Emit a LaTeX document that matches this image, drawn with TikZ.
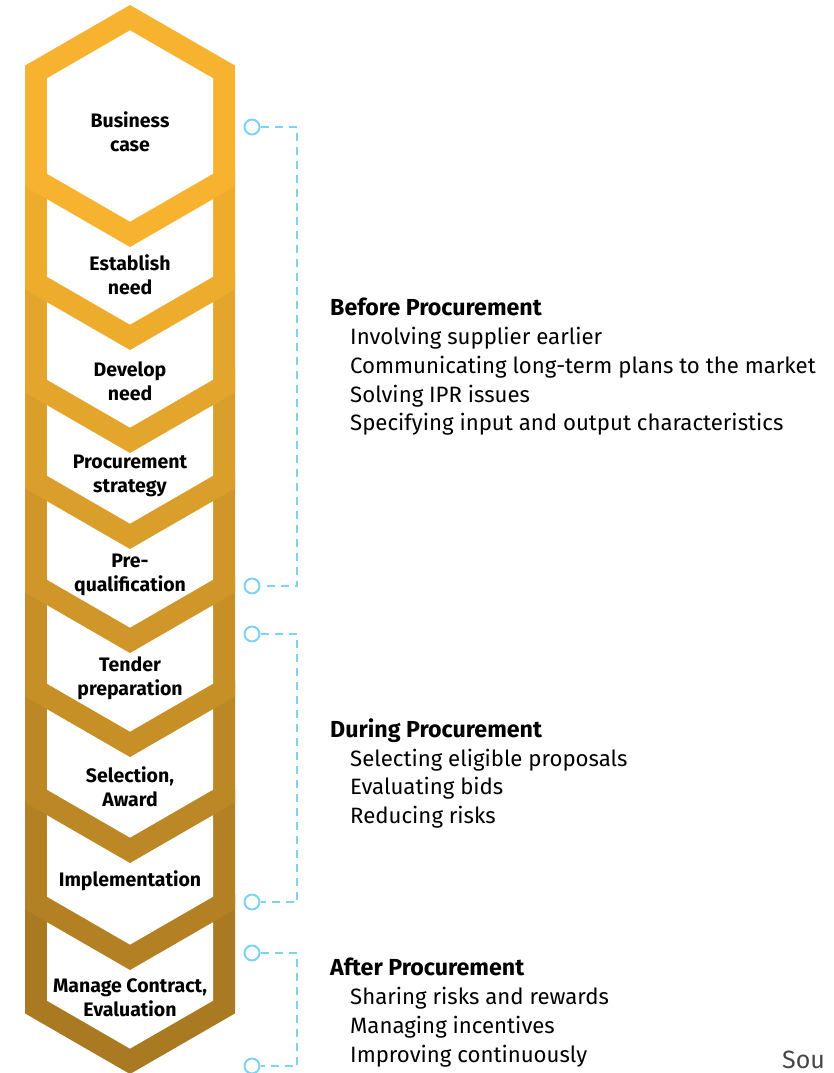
\documentclass[tikz,border=0pt]{standalone}
\usepackage{fontspec}
\setmainfont{Fira Sans}
\definecolor{gA}{RGB}{247,179,47}
\definecolor{gB}{RGB}{169,122,34}
\definecolor{conn}{RGB}{125,211,245}
\definecolor{srcgray}{RGB}{70,70,70}
\begin{document}
\begin{tikzpicture}[x=1pt,y=-1pt,
  lbl/.style={align=center,inner sep=0pt,font=\bfseries\fontsize{19.5}{24}\selectfont},
  hdr/.style={anchor=base west,inner sep=0pt,font=\bfseries\fontsize{23.2}{25}\selectfont},
  itm/.style={anchor=base west,inner sep=0pt,font=\fontsize{22.2}{25}\selectfont},
  dot/.style={circle,draw=conn,line width=2pt,minimum size=15pt,inner sep=0pt,fill=white},
  brk/.style={draw=conn,line width=2pt,dash pattern=on 8pt off 6pt}]
\useasboundingbox[fill=white] (0,0) rectangle (833,1073);
% stacked chevrons, bottom first
\foreach \a/\i in {1074/9,970/8,863/7,757/6,653/5,549/4,453/3,350/2}{
  \pgfmathtruncatemacro\p{(\i-1)*12.5}
  \fill[gB!\p!gA] (25,\a-180) -- (235,\a-180) -- (235,\a-60.6) -- (130,\a) -- (25,\a-60.6) -- cycle;
  \fill[white] (47,\a-180) -- (213,\a-180) -- (213,\a-73.3) -- (130,\a-25.4) -- (47,\a-73.3) -- cycle;
}
\fill[gA] (25,65.6) -- (130,5) -- (235,65.6) -- (235,186.4) -- (130,247) -- (25,186.4) -- cycle;
\fill[white] (47,78.3) -- (130,30.4) -- (213,78.3) -- (213,173.7) -- (130,221.6) -- (47,173.7) -- cycle;
% labels
\node[lbl] (s1) at (130,132) {Business\\case};
\node[lbl] (s2) at (130,275) {Establish\\need};
\node[lbl] (s3) at (130,381) {Develop\\need};
\node[lbl] (s4) at (130,476) {Procurement\\strategy};
\node[lbl] (s5) at (130,575) {Pre-\\qualification};
\node[lbl] (s6) at (130,678) {Tender\\preparation};
\node[lbl] (s7) at (130,787) {Selection,\\Award};
\node[lbl] (s8) at (130,881) {Implementation};
\node[lbl] (s9) at (130,998) {Manage Contract,\\Evaluation};
% right texts
\node[hdr] (h1) at (330,315) {Before Procurement};
\node[itm] (h1a) at (350,344) {Involving supplier earlier};
\node[itm] (h1b) at (350,373) {Communicating long-term plans to the market};
\node[itm] (h1c) at (350,402) {Solving IPR issues};
\node[itm] (h1d) at (350,430) {Specifying input and output characteristics};
\node[hdr] (h2) at (330,737) {During Procurement};
\node[itm] (h2a) at (350,766) {Selecting eligible proposals};
\node[itm] (h2b) at (350,794) {Evaluating bids};
\node[itm] (h2c) at (350,823) {Reducing risks};
\node[hdr] (h3) at (330,975) {After Procurement};
\node[itm] (h3a) at (350,1004) {Sharing risks and rewards};
\node[itm] (h3b) at (350,1033) {Managing incentives};
\node[itm] (h3c) at (350,1062) {Improving continuously};
\node[itm,text=srcgray,font=\fontsize{25}{27}\selectfont] (src) at (782,1068) {Sou};
% brackets
\node[dot] (b1) at (252,127) {};
\node[dot] (b2) at (252,586) {};
\node[dot] (b3) at (252,634) {};
\node[dot] (b4) at (252,902) {};
\node[dot] (b5) at (252,953) {};
\node[dot] (b6) at (252,1066) {};
\coordinate (x1) at (297,127);
\coordinate (x2) at (297,634);
\coordinate (x3) at (297,953);
\draw[brk] (b1) -- (x1) |- (b2);
\draw[brk] (b3) -- (x2) |- (b4);
\draw[brk] (b5) -- (x3) |- (b6);
\end{tikzpicture}
\end{document}
